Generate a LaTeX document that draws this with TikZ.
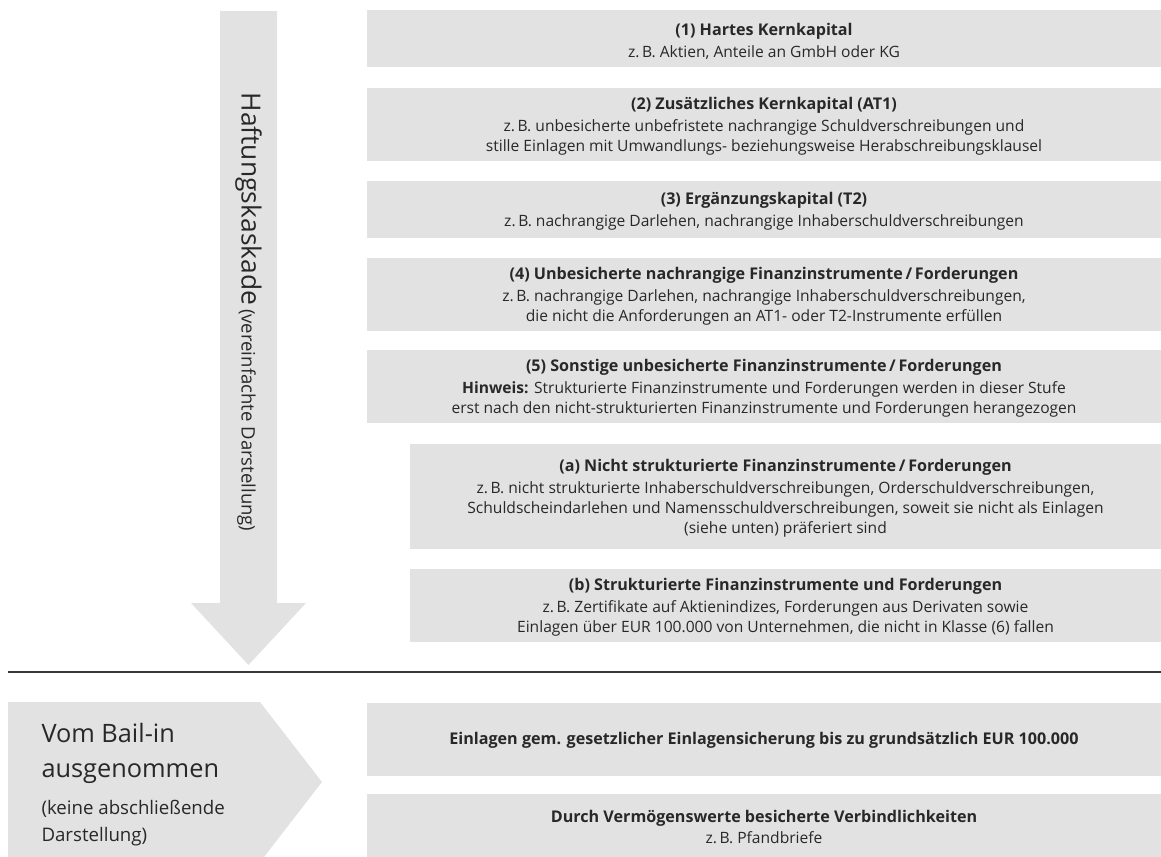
\documentclass[tikz,border=0pt]{standalone}
\usepackage{fontspec}
\setmainfont{Open Sans}
\tikzset{every picture/.style={line width=0.75pt}}
\newcommand{\tierhead}[1]{{\fontsize{12.1}{15}\selectfont\bfseries #1}}

\begin{document}
\begin{tikzpicture}[x=0.75pt,y=0.75pt,yscale=-1,xscale=1,
  tier/.style={draw opacity=0,fill={rgb, 255:red, 226; green, 226; blue, 226 },fill opacity=1},
  lbl/.style={inner sep=0.75pt,align=center,text={rgb, 255:red, 40; green, 40; blue, 40 },font=\fontsize{11.7}{15.2}\selectfont}
]
\useasboundingbox (0,0) rectangle (1161,857);

%Shape: Down Arrow
\draw  [tier] (220,11) -- (277,11) -- (277,603) -- (306,603) -- (248.5,665) -- (191,603) -- (220,603) -- cycle ;
%Shape: Pentagon
\draw  [tier] (8,702) -- (260,702) -- (322,782) -- (264,857) -- (8,857) -- cycle ;
%Shape: Rectangles
\draw  [tier] (367,10) rectangle (1161,67) ;
\draw  [tier] (367,88) rectangle (1161,161) ;
\draw  [tier] (367,181) rectangle (1161,238) ;
\draw  [tier] (367,258) rectangle (1161,331) ;
\draw  [tier] (367,350) rectangle (1161,423) ;
\draw  [tier] (410,444) rectangle (1161,549) ;
\draw  [tier] (410,569) rectangle (1161,642) ;
\draw  [tier] (367,703) rectangle (1161,776) ;
\draw  [tier] (367,794) rectangle (1161,857) ;
%Straight Lines
\draw [color={rgb, 255:red, 55; green, 55; blue, 55 },line width=1pt] (8,672) -- (1161,672) ;

% Text Node
\draw (248.5,312) node (cascade) [lbl,rotate=-90] {{\fontsize{19.8}{22}\selectfont Haftungskaskade} {\fontsize{13.9}{15}\selectfont (vereinfachte Darstellung)}};
% Text Node
\draw (764,41.5) node (tierone) [lbl] {\tierhead{(1) Hartes Kernkapital}\\[1pt]z.\,B. Aktien, Anteile an GmbH oder KG};
% Text Node
\draw (764,126.5) node (tiertwo) [lbl] {\tierhead{(2) Zusätzliches Kernkapital (AT1)}\\[1pt]z.\,B. unbesicherte unbefristete nachrangige Schuldverschreibungen und\\stille Einlagen mit Umwandlungs- beziehungsweise Herabschreibungsklausel};
% Text Node
\draw (764,211.5) node (tierthree) [lbl] {\tierhead{(3) Ergänzungskapital (T2)}\\[1pt]z.\,B. nachrangige Darlehen, nachrangige Inhaberschuldverschreibungen};
% Text Node
\draw (764,296.5) node (tierfour) [lbl] {\tierhead{(4) Unbesicherte nachrangige Finanzinstrumente\,/\,Forderungen}\\[1pt]z.\,B. nachrangige Darlehen, nachrangige Inhaberschuldverschreibungen,\\die nicht die Anforderungen an AT1- oder T2-Instrumente erfüllen};
% Text Node
\draw (764,388.5) node (tierfive) [lbl] {\tierhead{(5) Sonstige unbesicherte Finanzinstrumente\,/\,Forderungen}\\[1pt]\textbf{Hinweis:} Strukturierte Finanzinstrumente und Forderungen werden in dieser Stufe\\erst nach den nicht-strukturierten Finanzinstrumente und Forderungen herangezogen};
% Text Node
\draw (785.5,498.5) node (tierfivea) [lbl] {\tierhead{(a) Nicht strukturierte Finanzinstrumente\,/\,Forderungen}\\[1pt]z.\,B. nicht strukturierte Inhaberschuldverschreibungen, Orderschuldverschreibungen,\\Schuldscheindarlehen und Namensschuldverschreibungen, soweit sie nicht als Einlagen\\(siehe unten) präferiert sind};
% Text Node
\draw (785.5,607.5) node (tierfiveb) [lbl] {\tierhead{(b) Strukturierte Finanzinstrumente und Forderungen}\\[1pt]z.\,B. Zertifikate auf Aktienindizes, Forderungen aus Derivaten sowie\\Einlagen über EUR 100.000 von Unternehmen, die nicht in Klasse (6) fallen};
% Text Node
\draw (40,753.5) node (exempt) [lbl,anchor=west,align=left,font=\fontsize{19}{26.25}\selectfont] {Vom Bail-in\\ausgenommen};
% Text Node
\draw (40,823) node (exemptnote) [lbl,anchor=west,align=left,font=\fontsize{14}{20.5}\selectfont] {(keine abschließende\\Darstellung)};
% Text Node
\draw (764,740) node (deposits) [lbl] {\tierhead{Einlagen gem. gesetzlicher Einlagensicherung bis zu grundsätzlich EUR 100.000}};
% Text Node
\draw (764,827) node (secured) [lbl] {\tierhead{Durch Vermögenswerte besicherte Verbindlichkeiten}\\[1pt]z.\,B. Pfandbriefe};

\end{tikzpicture}
\end{document}
